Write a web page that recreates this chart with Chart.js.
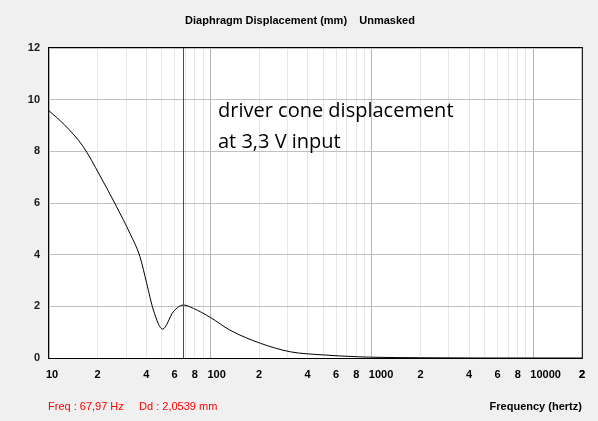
<!DOCTYPE html>
<html>
<head>
<meta charset="utf-8">
<script src="https://cdn.jsdelivr.net/npm/chart.js@4"></script>
<style>
  body { margin: 0; background: #f0f0f0; }
  #wrap { width: 598px; height: 421px; position: relative; }
</style>
</head>
<body>
<div id="wrap"><canvas id="myChart" width="598" height="421"></canvas></div>
<script>
// frequency (Hz) and diaphragm displacement (mm)
const freqs = [10, 12.5, 16.3, 20.6, 26.2, 31.7, 36.6, 40.3, 44.3, 50.6, 58.9, 68, 78.4, 100, 132, 204, 313, 500, 800, 1000, 2000, 5000, 20000];
const disp  = [9.57, 9.02, 8.18, 7.08, 5.86, 4.83, 3.92, 2.89, 1.86, 1.12, 1.79, 2.05, 1.92, 1.57, 1.08, 0.57, 0.24, 0.12, 0.05, 0.03, 0.01, 0.0, 0.0];
const yTicks = [0, 2, 4, 6, 8, 10, 12];
const cursorFreq = 68;

const chartTitle = 'Diaphragm Displacement (mm)    Unmasked';
const noteLines = ['driver cone displacement', 'at 3,3 V input'];
const readout = 'Freq : 67,97 Hz     Dd : 2,0539 mm';
const xTitle = 'Frequency (hertz)';

// all 1-9 x decade ticks from 10 to 20000
const xTickValues = [];
for (let d = 10; d <= 10000; d *= 10) {
    for (let m = 1; m <= 9; m++) xTickValues.push(m * d);
}
xTickValues.push(20000);

const ctx = document.getElementById('myChart').getContext('2d');

const labelFont = { family: 'Liberation Sans', size: 11, weight: 'bold' };

const extras = {
    id: 'extras',
    beforeDraw(chart) {
        const c = chart.ctx, a = chart.chartArea;
        c.save();
        c.fillStyle = '#f0f0f0';
        c.fillRect(0, 0, chart.width, chart.height);
        c.fillStyle = '#ffffff';
        c.fillRect(a.left, a.top, a.right - a.left, a.bottom - a.top);
        c.restore();
    },
    afterDatasetsDraw(chart) {
        const c = chart.ctx, a = chart.chartArea;
        const x = chart.scales.x.getPixelForValue(cursorFreq);
        c.save();
        c.strokeStyle = '#ff0000';
        c.lineWidth = 1;
        c.beginPath();
        c.moveTo(Math.round(x) + 0.5, a.top);
        c.lineTo(Math.round(x) + 0.5, a.bottom);
        c.stroke();
        c.strokeStyle = '#000000';
        c.strokeRect(a.left - 0.5, a.top - 0.5, a.right - a.left + 1, a.bottom - a.top + 1);

        c.fillStyle = '#000000';
        c.font = 'bold 11px "Liberation Sans"';
        c.textAlign = 'center';
        c.textBaseline = 'middle';
        c.fillText(chartTitle, 300, 21);
        c.textAlign = 'right';
        c.fillText(xTitle, a.right, 407);
        c.textAlign = 'left';
        c.fillStyle = '#ff0000';
        c.font = '11px "Liberation Sans"';
        c.fillText(readout, 48, 407);
        c.fillStyle = '#000000';
        c.font = '20px "Open Sans"';
        c.fillText(noteLines[0], 218, 111);
        c.fillText(noteLines[1], 218, 142);
        c.restore();
    }
};

new Chart(ctx, {
    type: 'line',
    data: {
        datasets: [{
            data: freqs.map((f, i) => ({ x: f, y: disp[i] })),
            borderColor: '#000000',
            borderWidth: 1,
            pointRadius: 0,
            cubicInterpolationMode: 'monotone',
            fill: false
        }]
    },
    options: {
        responsive: false,
        animation: false,
        layout: { padding: { top: 48, right: 14, left: 0, bottom: 0 } },
        plugins: { legend: { display: false }, tooltip: { enabled: false } },
        scales: {
            x: {
                type: 'logarithmic',
                min: 10,
                max: 20000,
                afterBuildTicks: (scale) => { scale.ticks = xTickValues.map(v => ({ value: v })); },
                afterFit: (scale) => { scale.height = 63; },
                border: { display: false },
                grid: {
                    drawTicks: false,
                    color: (c) => {
                        const v = c.tick && c.tick.value;
                        const m = v / Math.pow(10, Math.floor(Math.log10(v) + 1e-9));
                        return Math.abs(m - 1) < 1e-6 ? '#b4b4b4' : '#e6e6e6';
                    }
                },
                ticks: {
                    autoSkip: false,
                    maxRotation: 0,
                    align: 'start',
                    labelOffset: -3,
                    padding: 10,
                    color: '#000000',
                    font: labelFont,
                    callback: (v) => {
                        const m = Math.round(v / Math.pow(10, Math.floor(Math.log10(v) + 1e-9)));
                        if (m === 1) return String(v);
                        return [2, 4, 6, 8].includes(m) ? String(m) : '';
                    }
                }
            },
            y: {
                min: 0,
                max: 12,
                afterBuildTicks: (scale) => { scale.ticks = yTicks.map(v => ({ value: v })); },
                afterFit: (scale) => { scale.width = 49; },
                border: { display: false },
                grid: { drawTicks: false, color: '#c0c0c0' },
                ticks: { padding: 9, color: '#1a1a1a', font: labelFont }
            }
        }
    },
    plugins: [extras]
});
</script>
</body>
</html>
